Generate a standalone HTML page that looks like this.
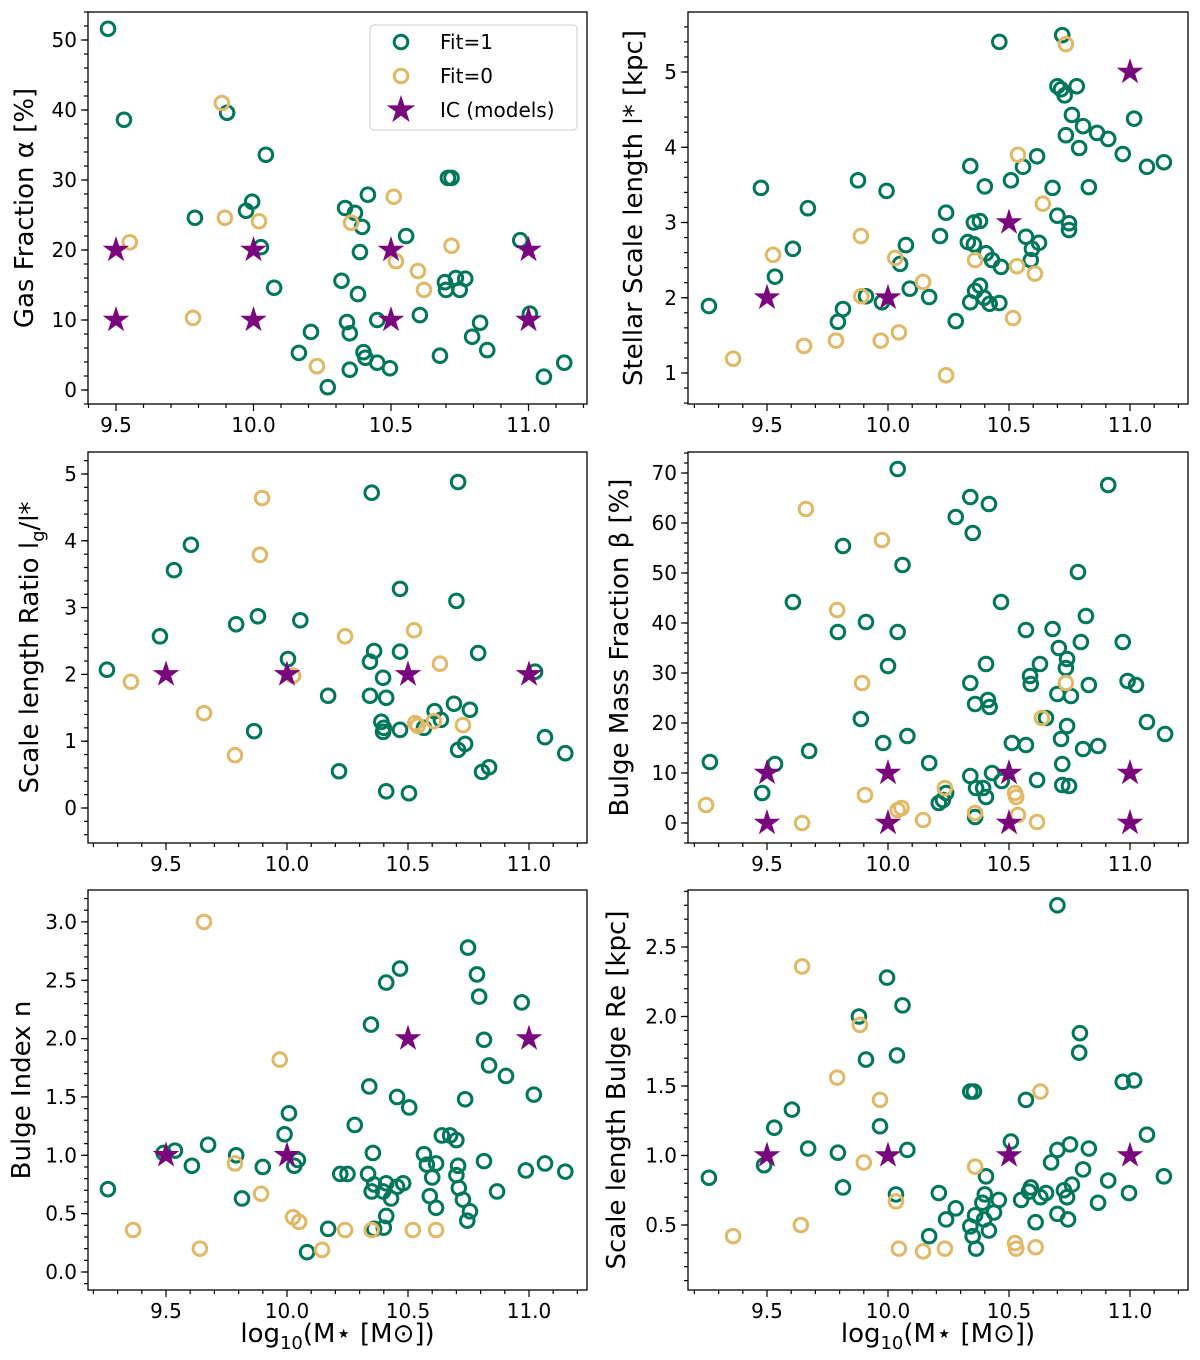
<!DOCTYPE html>
<html><head><meta charset="utf-8"><style>
body{margin:0;background:#fff;}
svg{display:block;font-family:"DejaVu Sans","Liberation Sans",sans-serif;}
</style></head><body>
<svg id="fig" width="1200" height="1360" viewBox="0 0 1200 1360" xmlns="http://www.w3.org/2000/svg"></svg>
<script>
const icMass = [9.5,10,10.5,11];
const p1Fit1 = [[9.471,51.6],[9.529,38.6],[9.904,39.6],[9.787,24.6],[9.973,25.6],[9.995,26.9],[10.045,33.6],[10.027,20.4],[10.075,14.6],[10.165,5.3],[10.209,8.3],[10.27,0.4],[10.333,26.0],[10.369,25.3],[10.395,23.3],[10.416,27.9],[10.387,19.7],[10.32,15.6],[10.38,13.7],[10.34,9.7],[10.35,8.1],[10.35,2.9],[10.40,5.4],[10.407,4.6],[10.45,3.9],[10.496,3.1],[10.45,10.0],[10.555,22.0],[10.605,10.7],[10.678,4.9],[10.707,30.3],[10.72,30.3],[10.696,15.4],[10.70,14.3],[10.736,16.0],[10.75,14.3],[10.77,15.9],[10.795,7.6],[10.824,9.6],[10.85,5.7],[10.97,21.4],[11.005,10.9],[11.056,1.9],[11.13,3.9]];
const p1Fit0 = [[9.55,21.1],[9.78,10.3],[9.896,24.6],[9.885,41.0],[10.02,24.1],[10.231,3.4],[10.355,23.9],[10.51,27.6],[10.518,18.4],[10.598,17.0],[10.62,14.3],[10.72,20.6]];
const p1IC = [[9.5,10],[9.5,20],[10,10],[10,20],[10.5,10],[10.5,20],[11,10],[11,20]];
const p2Fit1 = [[9.26,1.89],[9.475,3.46],[9.533,2.28],[9.607,2.65],[9.669,3.19],[9.793,1.68],[9.814,1.85],[9.876,3.56],[9.909,2.02],[9.994,3.42],[9.975,1.94],[10.05,2.45],[10.074,2.70],[10.09,2.12],[10.17,2.01],[10.215,2.82],[10.24,3.13],[10.28,1.69],[10.34,3.75],[10.33,2.74],[10.355,2.71],[10.355,3.0],[10.38,3.02],[10.36,2.09],[10.38,2.16],[10.34,1.94],[10.397,2.0],[10.405,2.59],[10.43,2.50],[10.40,3.48],[10.42,1.92],[10.46,1.93],[10.46,5.40],[10.467,2.41],[10.508,3.56],[10.558,3.74],[10.57,2.81],[10.59,2.50],[10.595,2.65],[10.616,3.88],[10.624,2.73],[10.68,3.46],[10.70,3.09],[10.70,4.81],[10.715,4.77],[10.72,5.49],[10.73,4.69],[10.748,2.90],[10.748,2.99],[10.735,4.16],[10.76,4.43],[10.78,4.81],[10.79,3.99],[10.806,4.28],[10.83,3.47],[10.864,4.19],[10.91,4.11],[10.97,3.91],[11.017,4.38],[11.07,3.74],[11.14,3.80]];
const p2Fit0 = [[9.36,1.19],[9.525,2.57],[9.653,1.36],[9.785,1.43],[9.888,2.82],[9.89,2.02],[9.97,1.43],[10.03,2.53],[10.045,1.54],[10.145,2.21],[10.24,0.97],[10.36,2.50],[10.537,3.90],[10.533,2.42],[10.517,1.73],[10.607,2.32],[10.64,3.25],[10.735,5.37]];
const p2IC = [[9.5,2],[10,2],[10.5,3],[11,5]];
const p3Fit1 = [[9.256,2.07],[9.475,2.57],[9.533,3.56],[9.603,3.94],[9.79,2.75],[9.88,2.87],[9.864,1.15],[10.004,2.23],[10.055,2.81],[10.17,1.68],[10.215,0.55],[10.35,4.72],[10.343,2.19],[10.36,2.35],[10.343,1.68],[10.39,1.29],[10.397,1.14],[10.40,1.20],[10.397,1.95],[10.41,1.65],[10.41,0.25],[10.467,3.28],[10.467,2.34],[10.467,1.17],[10.504,0.22],[10.566,1.20],[10.61,1.45],[10.636,1.32],[10.69,1.56],[10.707,4.88],[10.70,3.10],[10.707,0.87],[10.736,0.96],[10.756,1.47],[10.79,2.32],[10.806,0.54],[10.835,0.61],[11.025,2.04],[11.066,1.06],[11.15,0.82]];
const p3Fit0 = [[9.355,1.89],[9.657,1.42],[9.785,0.79],[9.897,4.64],[9.888,3.79],[10.025,1.98],[10.24,2.57],[10.525,2.66],[10.53,1.27],[10.54,1.23],[10.607,1.30],[10.632,2.16],[10.727,1.24]];
const p3IC = [[9.5,2],[10,2],[10.5,2],[11,2]];
const p4Fit1 = [[9.264,12.2],[9.48,6.0],[9.533,11.8],[9.607,44.2],[9.674,14.4],[9.793,38.2],[9.814,55.4],[9.909,40.2],[9.888,20.8],[9.98,16.0],[10.0,31.4],[10.04,70.8],[10.04,38.2],[10.06,51.6],[10.08,17.4],[10.17,12.0],[10.21,4.0],[10.227,4.6],[10.24,6.0],[10.28,61.2],[10.34,65.2],[10.35,58.0],[10.417,63.8],[10.34,28.0],[10.36,23.8],[10.36,1.2],[10.364,7.0],[10.393,7.0],[10.405,5.2],[10.405,31.8],[10.413,24.6],[10.42,23.2],[10.43,10.0],[10.34,9.4],[10.467,44.2],[10.47,8.4],[10.512,16.0],[10.57,15.6],[10.57,38.6],[10.587,29.4],[10.59,27.8],[10.628,31.8],[10.616,8.6],[10.653,21.0],[10.68,38.8],[10.706,35.0],[10.70,25.8],[10.72,11.8],[10.72,7.6],[10.748,7.4],[10.735,31.0],[10.74,32.8],[10.756,25.4],[10.715,16.8],[10.74,19.4],[10.785,50.2],[10.797,36.2],[10.818,41.4],[10.806,14.8],[10.83,27.6],[10.868,15.4],[10.91,67.6],[10.97,36.2],[10.99,28.4],[11.025,27.6],[11.07,20.2],[11.145,17.8]];
const p4Fit0 = [[9.248,3.6],[9.645,0],[9.661,62.8],[9.79,42.6],[9.975,56.6],[9.893,28.0],[9.905,5.6],[10.04,2.6],[10.056,3.0],[10.145,0.6],[10.235,7.0],[10.36,2.0],[10.525,6.0],[10.53,5.2],[10.537,1.6],[10.616,0.2],[10.636,21.0],[10.735,28.0]];
const p4IC = [[9.5,10],[9.5,0],[10,10],[10,0],[10.5,10],[10.5,0],[11,10],[11,0]];
const p5Fit1 = [[9.26,0.71],[9.49,1.02],[9.537,1.04],[9.607,0.91],[9.674,1.09],[9.79,1.0],[9.814,0.63],[9.90,0.90],[9.99,1.18],[10.008,1.36],[10.03,0.91],[10.045,0.96],[10.083,0.17],[10.17,0.37],[10.22,0.84],[10.25,0.84],[10.28,1.26],[10.335,0.84],[10.34,1.59],[10.347,2.12],[10.355,1.02],[10.35,0.69],[10.36,0.75],[10.36,0.37],[10.397,0.69],[10.40,0.38],[10.41,2.48],[10.41,0.48],[10.41,0.76],[10.43,0.63],[10.455,1.50],[10.455,0.73],[10.467,2.60],[10.48,0.76],[10.505,1.41],[10.566,1.01],[10.578,0.92],[10.59,0.65],[10.60,0.81],[10.616,0.55],[10.616,0.93],[10.64,1.17],[10.674,1.17],[10.70,1.13],[10.707,0.91],[10.70,0.83],[10.71,0.72],[10.727,0.62],[10.736,1.48],[10.745,0.44],[10.756,0.52],[10.748,2.78],[10.785,2.55],[10.794,2.36],[10.814,1.99],[10.835,1.77],[10.814,0.95],[10.868,0.69],[10.905,1.68],[10.97,2.31],[10.987,0.87],[11.02,1.52],[11.066,0.93],[11.15,0.86]];
const p5Fit0 = [[9.364,0.36],[9.64,0.20],[9.657,3.0],[9.785,0.93],[9.893,0.67],[9.97,1.82],[10.025,0.47],[10.05,0.43],[10.145,0.19],[10.24,0.36],[10.35,0.36],[10.52,0.36],[10.616,0.36]];
const p5IC = [[9.5,1],[10,1],[10.5,2],[11,2]];
const p6Fit1 = [[9.26,0.84],[9.488,0.93],[9.53,1.20],[9.603,1.33],[9.67,1.05],[9.793,1.02],[9.814,0.77],[9.88,2.0],[9.909,1.69],[9.967,1.21],[9.996,2.28],[10.037,1.72],[10.06,2.08],[10.08,1.04],[10.033,0.72],[10.17,0.42],[10.21,0.73],[10.24,0.54],[10.28,0.62],[10.34,1.46],[10.355,1.46],[10.34,0.49],[10.35,0.42],[10.36,0.57],[10.364,0.33],[10.39,0.66],[10.397,0.54],[10.4,0.72],[10.405,0.85],[10.417,0.46],[10.438,0.59],[10.458,0.68],[10.508,1.10],[10.55,0.68],[10.57,1.40],[10.583,0.74],[10.59,0.77],[10.61,0.52],[10.63,0.70],[10.653,0.73],[10.674,0.95],[10.70,1.04],[10.70,2.80],[10.70,0.58],[10.727,0.75],[10.74,0.70],[10.752,1.08],[10.744,0.54],[10.76,0.79],[10.79,1.74],[10.793,1.88],[10.806,0.90],[10.83,1.05],[10.868,0.66],[10.91,0.82],[10.97,1.53],[10.996,0.73],[11.017,1.54],[11.07,1.15],[11.14,0.85]];
const p6Fit0 = [[9.36,0.42],[9.645,2.36],[9.64,0.5],[9.79,1.56],[9.884,1.94],[9.90,0.95],[9.967,1.40],[10.033,0.67],[10.045,0.33],[10.145,0.31],[10.235,0.33],[10.36,0.92],[10.525,0.37],[10.53,0.33],[10.61,0.34],[10.63,1.46]];
const p6IC = [[9.5,1],[10,1],[10.5,1],[11,1]];
const xTickLabels = ["9.5","10.0","10.5","11.0"];

const NS="http://www.w3.org/2000/svg";
const svg=document.getElementById('fig');
const GREEN="#00775a", TAN="#e1b866", PURPLE="#7a067e";
function mk(tag,attrs,parent){const e=document.createElementNS(NS,tag);for(const k in attrs)e.setAttribute(k,attrs[k]);(parent||svg).appendChild(e);return e;}
function starPts(cx,cy,R){const r=R*0.382;let p=[];for(let i=0;i<10;i++){const a=-Math.PI/2+i*Math.PI/5;const rr=i%2?r:R;p.push((cx+rr*Math.cos(a)).toFixed(1)+","+(cy+rr*Math.sin(a)).toFixed(1));}return p.join(" ");}

const panels=[
 {name:"gas-fraction",box:[88,12,587,404],x0:116,sx:275,yRef:0,yPx:390,sy:7,yt:[0,10,20,30,40,50],ylab:["0","10","20","30","40","50"],minor:2,yl:"Gas Fraction α [%]",ylx:33,f1:p1Fit1,f0:p1Fit0,ic:p1IC,legend:true},
 {name:"stellar-scale-length",box:[688,12,1188,404],x0:767,sx:242,yRef:1,yPx:373,sy:75.25,yt:[1,2,3,4,5],ylab:["1","2","3","4","5"],minor:0.2,yl:"Stellar Scale length l* [kpc]",ylx:642,f1:p2Fit1,f0:p2Fit0,ic:p2IC},
 {name:"scale-length-ratio",box:[88,452,587,843],x0:166,sx:242,yRef:0,yPx:808,sy:66.8,yt:[0,1,2,3,4,5],ylab:["0","1","2","3","4","5"],minor:0.2,yl:"Scale length Ratio l<sub>g</sub>/l*",ylx:38,f1:p3Fit1,f0:p3Fit0,ic:p3IC},
 {name:"bulge-mass-fraction",box:[688,452,1188,843],x0:767,sx:242,yRef:0,yPx:823,sy:5,yt:[0,10,20,30,40,50,60,70],ylab:["0","10","20","30","40","50","60","70"],minor:2,yl:"Bulge Mass Fraction β [%]",ylx:628,f1:p4Fit1,f0:p4Fit0,ic:p4IC},
 {name:"bulge-index",box:[88,890,587,1290],x0:166,sx:242,yRef:0,yPx:1272,sy:116.7,yt:[0,0.5,1,1.5,2,2.5,3],ylab:["0.0","0.5","1.0","1.5","2.0","2.5","3.0"],minor:0.1,yl:"Bulge Index n",ylx:30,f1:p5Fit1,f0:p5Fit0,ic:p5IC,xl:true},
 {name:"bulge-scale-length",box:[688,890,1188,1290],x0:767,sx:242,yRef:0.5,yPx:1225,sy:139,yt:[0.5,1,1.5,2,2.5],ylab:["0.5","1.0","1.5","2.0","2.5"],minor:0.1,yl:"Scale length Bulge Re [kpc]",ylx:625,f1:p6Fit1,f0:p6Fit0,ic:p6IC,xl:true}
];

panels.forEach(P=>{
 const g=mk('g',{});
 
 
 const [L,T,R,B]=P.box;
 const X=v=>P.x0+(v-9.5)*P.sx;
 const Y=v=>P.yPx-(v-P.yRef)*P.sy;
 const ax=mk('g',{},g);
 
 
 for(let v=9.0;v<=11.5;v+=0.1){const px=X(v);if(px<L||px>R)continue;const major=Math.abs(v*2-Math.round(v*2))<1e-6;mk('line',{x1:px,y1:B,x2:px,y2:B+(major?7:4),stroke:"#000","stroke-width":1.2},ax);}
 [9.5,10,10.5,11].forEach((v,i)=>{const t=mk('text',{x:X(v),y:B+28,"font-size":20,"text-anchor":"middle",fill:"#000"},ax);t.textContent=xTickLabels[i];});
 const ay=mk('g',{},g);
 
 
 const step=P.minor;
 for(let v=P.yt[0]-10*step;v<=P.yt[P.yt.length-1]+10*step;v+=step){const py=Y(v);if(py<T||py>B)continue;mk('line',{x1:L,y1:py,x2:L-4,y2:py,stroke:"#000","stroke-width":1.2},ay);}
 P.yt.forEach((v,i)=>{const py=Y(v);mk('line',{x1:L,y1:py,x2:L-7,y2:py,stroke:"#000","stroke-width":1.2},ay);const t=mk('text',{x:L-11,y:py+7,"font-size":20,"text-anchor":"end",fill:"#000"},ay);t.textContent=P.ylab[i];});
 const yl=mk('text',{x:P.ylx,y:(T+B)/2,"font-size":26,"text-anchor":"middle",fill:"#000",transform:`rotate(-90 ${P.ylx} ${(T+B)/2})`},ay);
 
 
 if(P.yl.indexOf('<sub>')>=0){yl.textContent="Scale length Ratio l";const s=mk('tspan',{"font-size":18,dy:6},yl);s.textContent="g";const s2=mk('tspan',{dy:-6},yl);s2.textContent="/l*";}
 else yl.textContent=P.yl;
 if(P.xl){const xt=mk('text',{x:(L+R)/2,y:B+52,"font-size":26,"text-anchor":"middle",fill:"#000"},g);
  
  
  xt.textContent="log";const s=mk('tspan',{"font-size":18,dy:7},xt);s.textContent="10";const s2=mk('tspan',{dy:-7},xt);s2.textContent="(M⋆ [M⊙])";}
 const s1=mk('g',{},g);
 
 
 P.f1.forEach(d=>{const c=mk('circle',{cx:X(d[0]),cy:Y(d[1]),r:6.8,fill:"none",stroke:GREEN,"stroke-width":3},s1);});
 const s0=mk('g',{},g);
 
 
 P.f0.forEach(d=>{const c=mk('circle',{cx:X(d[0]),cy:Y(d[1]),r:6.8,fill:"none",stroke:TAN,"stroke-width":3},s0);});
 const si=mk('g',{},g);
 
 
 P.ic.forEach(d=>{const p=mk('polygon',{points:starPts(X(d[0]),Y(d[1]),14),fill:PURPLE},si);});
 mk('rect',{x:L,y:T,width:R-L,height:B-T,fill:"none",stroke:"#000","stroke-width":1.3},g);
 if(P.legend){
  const lg=mk('g',{},g);
  
  
  mk('rect',{x:370,y:25,width:207,height:105,rx:4,fill:"#fff","fill-opacity":0.85,stroke:"#ccc","stroke-width":1},lg);
  mk('circle',{cx:401,cy:42,r:6.8,fill:"none",stroke:GREEN,"stroke-width":3},lg);
  mk('circle',{cx:401,cy:76,r:6.8,fill:"none",stroke:TAN,"stroke-width":3},lg);
  mk('polygon',{points:starPts(401,110,15),fill:PURPLE},lg);
  [["Fit=1",49],["Fit=0",83],["IC (models)",117]].forEach(a=>{const t=mk('text',{x:440,y:a[1],"font-size":20,fill:"#000"},lg);t.textContent=a[0];});
 }
});
</script>
</body></html>
